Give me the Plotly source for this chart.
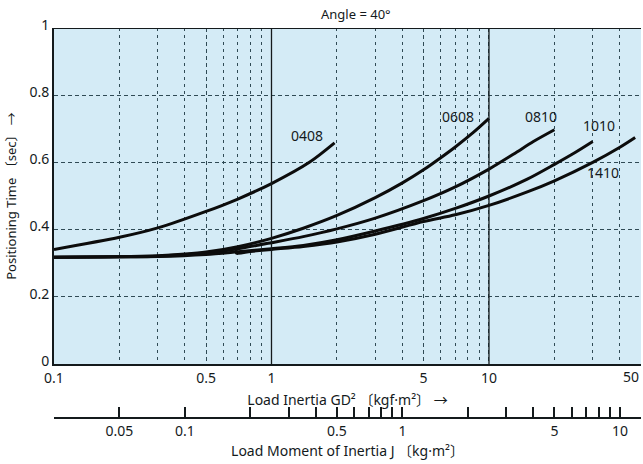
import math
import plotly.graph_objects as go

# ---- data (GD^2 in kgf·m^2, positioning time in sec) ----
gd2_0408 = [0.1, 0.2, 0.3, 0.5, 0.7, 1.0, 1.5, 1.95]
t_0408 = [0.341, 0.377, 0.405, 0.454, 0.491, 0.537, 0.601, 0.658]

gd2_0608 = [0.1, 0.2, 0.3, 0.4, 0.5, 0.7, 1.0, 1.4, 2.0, 3.0, 4.0, 5.0, 6.0, 7.0, 8.5, 10.0]
t_0608 = [0.318, 0.319, 0.322, 0.327, 0.333, 0.349, 0.374, 0.404, 0.442, 0.495, 0.539, 0.578, 0.614, 0.646, 0.690, 0.731]

gd2_0810 = [0.1, 0.2, 0.3, 0.5, 0.7, 1.0, 1.4, 2.0, 3.0, 5.0, 7.0, 10.0, 13.0, 16.0, 20.0]
t_0810 = [0.318, 0.319, 0.321, 0.330, 0.343, 0.361, 0.379, 0.402, 0.434, 0.486, 0.527, 0.580, 0.625, 0.662, 0.697]

gd2_1010 = [0.1, 0.2, 0.3, 0.5, 0.7, 1.0, 1.4, 2.0, 3.0, 5.0, 7.0, 10.0, 15.0, 20.0, 25.0, 30.0]
t_1010 = [0.318, 0.319, 0.320, 0.326, 0.334, 0.343, 0.353, 0.370, 0.396, 0.433, 0.463, 0.500, 0.550, 0.594, 0.630, 0.662]

gd2_1410 = [0.69, 0.69, 0.8, 1.0, 1.4, 2.0, 3.0, 5.0, 7.0, 10.0, 15.0, 20.0, 30.0, 40.0, 47.0]
t_1410 = [0.344, 0.330, 0.335, 0.341, 0.350, 0.363, 0.386, 0.424, 0.444, 0.472, 0.512, 0.545, 0.600, 0.645, 0.674]

series_names = ["0408", "0608", "0810", "1010", "1410"]
series_x = [gd2_0408, gd2_0608, gd2_0810, gd2_1010, gd2_1410]
series_y = [t_0408, t_0608, t_0810, t_1010, t_1410]

# label positions (data coords)
label_x = [1.45, 7.2, 17.4, 31.9, 33.3]
label_y = [0.680, 0.737, 0.737, 0.710, 0.570]

# axis ticks
gd2_tick_vals = [0.1, 0.5, 1, 5, 10]
gd2_tick_text = ["0.1", "0.5", "1", "5", "10"]
gd2_grid_minor = [0.2, 0.3, 0.4, 0.6, 0.7, 0.8, 0.9, 2, 3, 4, 6, 7, 8, 9, 20, 30, 40]
gd2_decades = [1, 10]
gd2_max_label = "50"
y_ticks = [0, 0.2, 0.4, 0.6, 0.8, 1]
y_tick_text = ["0", "0.2", "0.4", "0.6", "0.8", "1"]

j_tick_vals = [0.05, 0.1, 0.2, 0.3, 0.4, 0.5, 0.6, 0.7, 0.8, 0.9, 1, 2, 3, 4, 5, 6, 7, 8, 9, 10]
j_tick_text = ["0.05", "0.1", "", "", "", "0.5", "", "", "", "", "1", "", "", "", "5", "", "", "", "", "10"]

FONT = "Noto Sans, Noto Sans CJK JP, sans-serif"
INK = "#141a1c"
GRID = "#2f4a55"

fig = go.Figure()
for name, xs, ys in zip(series_names, series_x, series_y):
    fig.add_trace(go.Scatter(x=xs, y=ys, mode="lines", name=name,
                             line=dict(color="#0c0c0c", width=3, shape="spline", smoothing=0.8),
                             showlegend=False, hoverinfo="skip"))

# invisible trace to activate the secondary J axis
fig.add_trace(go.Scatter(x=[0.1], y=[0], xaxis="x2", yaxis="y", mode="markers",
                         marker=dict(opacity=0), showlegend=False, hoverinfo="skip"))

for name, lx, ly in zip(series_names, label_x, label_y):
    fig.add_annotation(x=math.log10(lx), y=ly, xref="x", yref="y", text=name, showarrow=False,
                       xanchor="center", yanchor="middle",
                       font=dict(family=FONT, size=14, color=INK))

for d in gd2_decades:
    fig.add_shape(type="line", xref="x", yref="y", x0=d, x1=d, y0=0, y1=1,
                  line=dict(color=INK, width=1.3))
# top border
fig.add_shape(type="line", xref="paper", yref="y", x0=0, x1=1, y0=1, y1=1,
              line=dict(color=INK, width=2))

# right-end label of the GD² axis
fig.add_annotation(x=1, y=0, xref="paper", yref="y", text=gd2_max_label, showarrow=False,
                   xanchor="right", yanchor="top", yshift=-1,
                   font=dict(family=FONT, size=14, color=INK))

fig.add_annotation(x=0.514, y=1, xref="paper", yref="paper", text="Angle = 40°",
                   showarrow=False, xanchor="center", yanchor="middle", yshift=14,
                   font=dict(family=FONT, size=13, color=INK))

fig.update_layout(
    width=643, height=464,
    margin=dict(l=54, r=2, t=28, b=46),
    paper_bgcolor="white",
    plot_bgcolor="#d4ebf6",
    font=dict(family=FONT, size=13, color=INK),
    xaxis=dict(
        type="log", range=[-1, 1.69897], anchor="y",
        tickvals=gd2_tick_vals, ticktext=gd2_tick_text, ticks="",
        ticklabelstandoff=0,
        showgrid=True, gridcolor=GRID, gridwidth=1, griddash="4px,3px",
        minor=dict(tickvals=gd2_grid_minor, showgrid=True, gridcolor=GRID,
                   gridwidth=1, griddash="3px,4px", ticks=""),
        showline=True, linecolor=INK, linewidth=2,
        tickfont=dict(family=FONT, size=14, color=INK),
        title=dict(text="Load Inertia GD² 〔kgf·m²〕 →", standoff=9,
                   font=dict(family=FONT, size=14, color=INK)),
        automargin=False, zeroline=False,
    ),
    xaxis2=dict(
        type="log", range=[-1.60206, 1.09691], overlaying="x", anchor="free", position=0,
        side="bottom",
        tickvals=j_tick_vals, ticktext=j_tick_text, ticks="inside", ticklen=10,
        tickwidth=1.5, tickcolor=INK,
        showgrid=False, showline=True, linecolor=INK, linewidth=2,
        tickfont=dict(family=FONT, size=14, color=INK),
        title=dict(text="Load Moment of Inertia J 〔kg·m²〕", standoff=6,
                   font=dict(family=FONT, size=14, color=INK)),
        automargin=False, zeroline=False,
    ),
    yaxis=dict(
        range=[0, 1], domain=[0.1385, 1],
        tickvals=y_ticks, ticktext=y_tick_text, ticks="",
        ticklabelshift=-3,
        showgrid=True, gridcolor=GRID, gridwidth=1, griddash="4px,3px",
        showline=True, linecolor=INK, linewidth=2,
        tickfont=dict(family=FONT, size=14, color=INK),
        title=dict(text="Positioning Time 〔sec〕 →", standoff=10,
                   font=dict(family=FONT, size=13, color=INK)),
        automargin=False, zeroline=False,
    ),
)

fig.write_html("out.html", config={"displayModeBar": False},
               post_script="document.body.style.margin='0';")
